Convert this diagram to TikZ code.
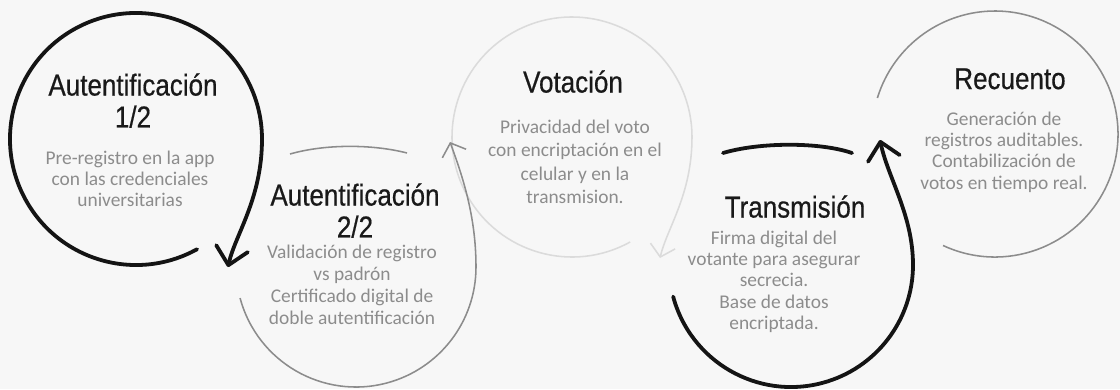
\documentclass[tikz,border=0pt]{standalone}
\usepackage{fontspec}
\usetikzlibrary{arrows.meta}
\newfontfamily\ttlfont[FakeStretch=0.86,FakeBold=0.5]{Liberation Sans}
\newfontfamily\descfont{Carlito}

\begin{document}
\begin{tikzpicture}[x=0.025cm,y=-0.025cm]
	\tikzset{
		ttl/.style={font={\ttlfont\fontsize{21.5}{22.7}\selectfont},align=center,inner sep=0pt,anchor=north,text=black!90},
		desc/.style={font={\descfont\fontsize{13.8}{#1}\selectfont},align=center,inner sep=0pt,anchor=north,text=black!45},
		desc/.default=15,
		darkarc/.style={draw=black!92,line width=2.7pt,line cap=round},
		greyarc/.style={draw=black!45,line width=1.1pt},
		palearc/.style={draw=black!14,line width=1.1pt},
		darktip/.style={-{Straight Barb[length=12pt,width=23pt,round]}},
		greytip/.style={-{Straight Barb[length=8pt,width=18pt]}}
	}
	\fill[black!3] (0,0) rectangle (1120,389);
	\useasboundingbox (0,0) rectangle (1120,389);

	%% centres and arrow ends
	\coordinate (c1) at (136,139);
	\coordinate (c2) at (356,267);
	\coordinate (c3) at (572,137);
	\coordinate (c4) at (791,265);
	\coordinate (c5) at (995,134);
	\coordinate (tip1) at (228,267);
	\coordinate (tip2) at (450,142);
	\coordinate (tip3) at (660,258);
	\coordinate (tip4) at (880,140);

	%% pale and grey rings
	\draw[palearc,greytip] ([shift={(61:120)}]c3) arc[start angle=61,end angle=360,radius=120]
		.. controls +(0,58) and +(7,-30) .. (tip3);
	\draw[greyarc] (290,154) .. controls (325,144) and (372,144) .. (407,153);
	\draw[greyarc,greytip] ([shift={(165:120)}]c2) arc[start angle=165,end angle=0,radius=120]
		.. controls +(0,-52) and +(12,33) .. (tip2);
	\draw[greyarc] ([shift={(115:123)}]c5) arc[start angle=115,end angle=-163,radius=123];

	%% black rings
	\draw[darkarc] (723,153) .. controls (760,142) and (820,142) .. (852,153);
	\draw[darkarc,darktip] ([shift={(165:122)}]c4) arc[start angle=165,end angle=0,radius=122]
		.. controls +(0,-50) and +(8,38) .. (tip4);
	\draw[darkarc,darktip] ([shift={(61:126)}]c1) arc[start angle=61,end angle=360,radius=126]
		.. controls +(0,60) and +(7,-32) .. (tip1);

	%% texts
	\node[ttl] (tit1) at (133,73) {Autentificación\\1/2};
	\node[desc] (desc1) at (130,151) {Pre-registro en la app\\con las credenciales\\universitarias};
	\node[ttl] (tit2) at (355,183) {Autentificación\\2/2};
	\node[desc=15.6] (desc2) at (352,245) {Validación de registro\\vs padrón\\Certificado digital de\\doble autentificación};
	\node[ttl] (tit3) at (573,70) {Votación};
	\node[desc=16.5] (desc3) at (575,120) {Privacidad del voto\\con encriptación en el\\celular y en la\\transmision.};
	\node[ttl] (tit4) at (795,195) {Transmisión};
	\node[desc] (desc4) at (774,231) {Firma digital del\\votante para asegurar\\secrecia.\\Base de datos\\encriptada.};
	\node[ttl] (tit5) at (1010,68) {Recuento};
	\node[desc] (desc5) at (1004,112) {Generación de\\registros auditables.\\Contabilización de\\votos en tiempo real.};
\end{tikzpicture}
\end{document}
